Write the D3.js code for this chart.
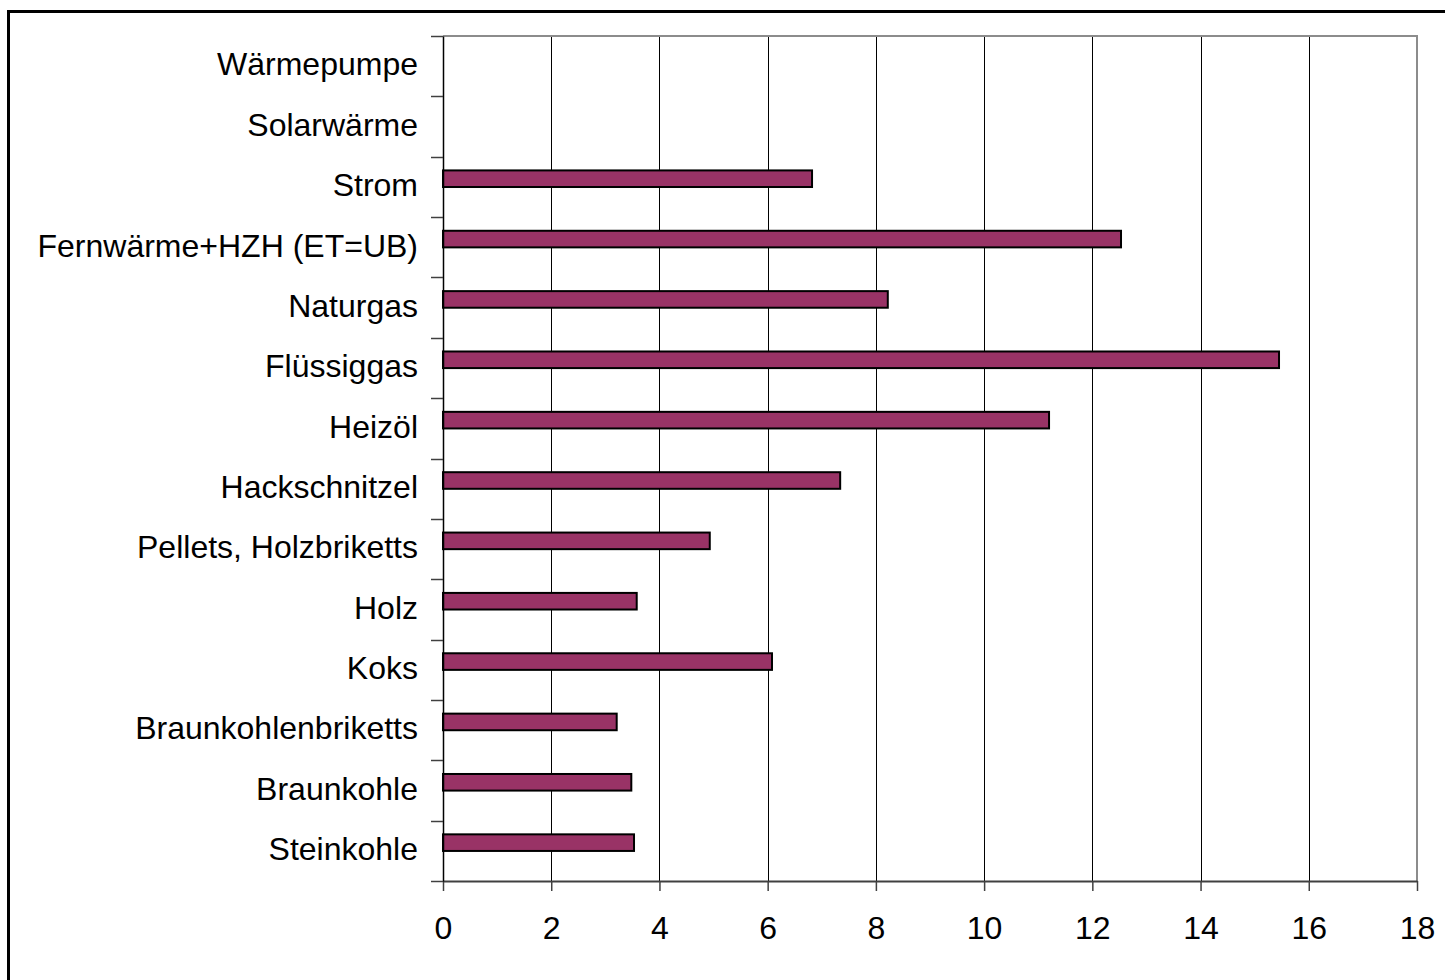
<!DOCTYPE html>
<html>
<head>
<meta charset="utf-8">
<script src="https://cdn.jsdelivr.net/npm/d3@7"></script>
<style>
  html, body { margin: 0; padding: 0; background: #fff; }
  svg { display: block; }
  text { font-family: "Liberation Sans", Arial, sans-serif; fill: #000; }
</style>
</head>
<body>
<svg id="chart" width="1445" height="980"></svg>
<script>
// Energy carriers, listed top to bottom
const categories = [
  "Wärmepumpe",
  "Solarwärme",
  "Strom",
  "Fernwärme+HZH (ET=UB)",
  "Naturgas",
  "Flüssiggas",
  "Heizöl",
  "Hackschnitzel",
  "Pellets, Holzbriketts",
  "Holz",
  "Koks",
  "Braunkohlenbriketts",
  "Braunkohle",
  "Steinkohle"
];

// One value per carrier (null = no value)
const values = [null, null, 6.82, 12.53, 8.22, 15.45, 11.2, 7.34, 4.93, 3.58, 6.08, 3.21, 3.48, 3.53];

const xTickValues = [0, 2, 4, 6, 8, 10, 12, 14, 16, 18];

const svg = d3.select("#chart");

const plot = { left: 443, right: 1417, top: 36, bottom: 881 };

// Outer frame
svg.append("rect")
  .attr("x", 8.5).attr("y", 11.5)
  .attr("width", 1445).attr("height", 980)
  .attr("fill", "none").attr("stroke", "#000").attr("stroke-width", 3);

const x = d3.scaleLinear().domain([0, 18]).range([plot.left, plot.right]);
const y = d3.scaleBand().domain(categories).range([plot.top, plot.bottom]).padding(0);

// Vertical gridlines
svg.append("g")
  .selectAll("line")
  .data(xTickValues.filter(v => v > 0 && v < 18))
  .join("line")
  .attr("x1", d => Math.round(x(d)) + 0.5).attr("x2", d => Math.round(x(d)) + 0.5)
  .attr("y1", plot.top).attr("y2", plot.bottom)
  .attr("stroke", "#000").attr("stroke-width", 1);

// Plot area border (top and right)
svg.append("path")
  .attr("d", `M${plot.left},${plot.top} H${plot.right} V${plot.bottom}`)
  .attr("fill", "none").attr("stroke", "#8c8c8c").attr("stroke-width", 2);

// Bars
const data = categories.map((c, i) => ({ cat: c, v: values[i] })).filter(d => d.v != null);
const bw = y.bandwidth();
svg.append("g")
  .selectAll("rect")
  .data(data)
  .join("rect")
  .attr("x", x(0))
  .attr("y", d => y(d.cat) + bw * 0.227)
  .attr("width", d => x(d.v) - x(0))
  .attr("height", bw * 0.275)
  .attr("fill", "#993366")
  .attr("stroke", "#000")
  .attr("stroke-width", 2);

// X axis
const xAxis = svg.append("g")
  .attr("transform", `translate(0,${plot.bottom})`)
  .call(d3.axisBottom(x).tickValues(xTickValues).tickSize(10).tickPadding(25).tickSizeOuter(0));
xAxis.select(".domain").attr("stroke", "#404040").attr("stroke-width", 2);
xAxis.selectAll(".tick line").attr("stroke", "#404040").attr("stroke-width", 1.5);
xAxis.selectAll(".tick text")
  .attr("font-size", 32)
  .attr("font-family", "'Liberation Sans', Arial, sans-serif")
  .attr("fill", "#000");

// Y axis: labels at band centres, ticks at band boundaries
const yAxis = svg.append("g")
  .attr("transform", `translate(${plot.left},0)`)
  .call(d3.axisLeft(y).tickSize(0).tickPadding(25));
yAxis.select(".domain").attr("stroke", "#000").attr("stroke-width", 1.5);
yAxis.selectAll(".tick text")
  .attr("font-size", 32)
  .attr("font-family", "'Liberation Sans', Arial, sans-serif")
  .attr("fill", "#000")
  .attr("dy", "0.29em");

const boundaries = categories.map(c => y(c)).concat([plot.bottom]);
svg.append("g")
  .selectAll("line")
  .data(boundaries)
  .join("line")
  .attr("x1", plot.left - 12).attr("x2", plot.left)
  .attr("y1", d => Math.round(d) + 0.5).attr("y2", d => Math.round(d) + 0.5)
  .attr("stroke", "#404040").attr("stroke-width", 1.5);
</script>
</body>
</html>
